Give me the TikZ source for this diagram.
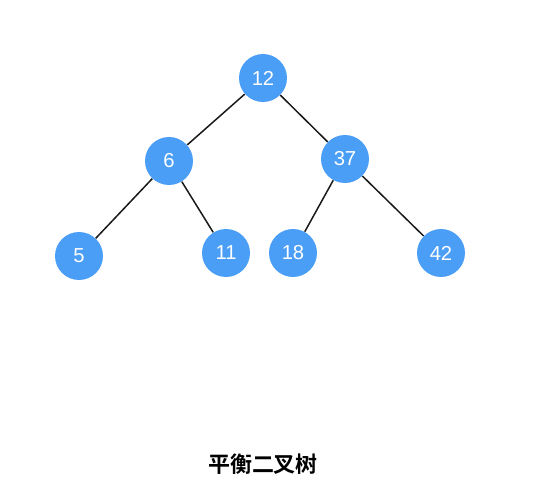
\documentclass[tikz,border=0pt]{standalone}
\usepackage{fontspec}
\setsansfont{Liberation Sans}
\newfontfamily\cjkbold[BoldFont={Noto Sans CJK SC Bold}]{Noto Sans CJK SC}
\usepackage{xcolor}
\usepackage{tikz}
\definecolor{nodeblue}{RGB}{74, 158, 246}

\begin{document}
\begin{tikzpicture}[
  x=0.02cm,
  y=-0.02cm,
  font=\sffamily,
  treenode/.style={circle, fill=nodeblue, minimum size=48*0.02cm, inner sep=0pt,
                   text=white, font=\sffamily\fontsize{11.5}{13}\selectfont},
  edge/.style={draw=black!90, line width=0.85pt}
]

\useasboundingbox (0,0) rectangle (559,500);

\node[treenode] (n12) at (263, 78) {12};
\node[treenode] (n6)  at (169,161) {6};
\node[treenode] (n37) at (345,159) {37};
\node[treenode] (n5)  at ( 79,256) {5};
\node[treenode] (n11) at (226,253) {11};
\node[treenode] (n18) at (293,253) {18};
\node[treenode] (n42) at (441,253) {42};

\draw[edge] (n12) -- (n6);
\draw[edge] (n12) -- (n37);
\draw[edge] (n6)  -- (n5);
\draw[edge] (n6)  -- (n11);
\draw[edge] (n37) -- (n18);
\draw[edge] (n37) -- (n42);

\node[font=\cjkbold\bfseries\fontsize{12.5}{14}\selectfont] (title) at (263,464) {平衡二叉树};

\end{tikzpicture}
\end{document}
